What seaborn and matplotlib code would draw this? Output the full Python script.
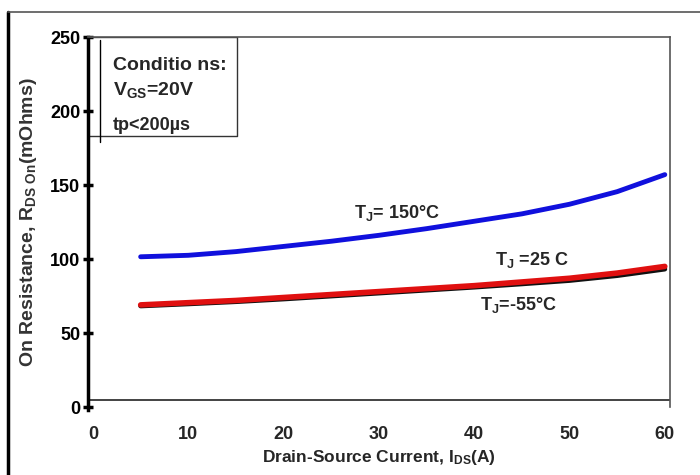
import matplotlib
matplotlib.use("Agg")
import matplotlib.pyplot as plt
import seaborn as sns
import pandas as pd

sns.set_theme(style="white")
plt.rcParams['font.family'] = ['Liberation Sans', 'DejaVu Sans']
plt.rcParams['mathtext.fontset'] = 'custom'
plt.rcParams['mathtext.rm'] = 'Liberation Sans:bold'
plt.rcParams['mathtext.it'] = 'Liberation Sans:bold'
plt.rcParams['mathtext.bf'] = 'Liberation Sans:bold'

# Data
ids = [5, 10, 15, 20, 25, 30, 35, 40, 45, 50, 55, 60]
r_150 = [101.5, 102.5, 105, 108.5, 112, 116, 120.5, 125.5, 130.5, 137, 145.5, 157]
r_25 = [69, 70.5, 72, 74, 76, 78, 80, 82, 84.5, 87, 90.5, 95]
r_m55 = [68.3, 69.7, 71.2, 73, 75, 77, 79, 81, 83.2, 85.5, 88.8, 93.2]

xticks = [0, 10, 20, 30, 40, 50, 60]
yticks = [0, 50, 100, 150, 200, 250]

df = pd.DataFrame({
    "I": ids * 3,
    "R": r_m55 + r_25 + r_150,
    "T": ["-55"] * len(ids) + ["25"] * len(ids) + ["150"] * len(ids),
})

fig = plt.figure(figsize=(7, 4.75), dpi=100)
ax = fig.add_axes([88 / 700, 1 - 407 / 475, (670 - 88) / 700, (407 - 37) / 475])

palette = {"-55": "#111111", "25": "#e01010", "150": "#1010dd"}
widths = {"-55": 3.5, "25": 4.0, "150": 3.5}
for t in ["-55", "25", "150"]:
    sub = df[df["T"] == t]
    sns.lineplot(data=sub, x="I", y="R", ax=ax, color=palette[t],
                 linewidth=widths[t], legend=False)

x0 = 0 - 5 / 9.53
ax.set_xlim(x0, x0 + 582 / 9.53)
ax.set_ylim(0, 250)

for s in ["top", "right"]:
    ax.spines[s].set_color("#555555")
    ax.spines[s].set_linewidth(1.2)
ax.spines["bottom"].set_visible(False)
ax.axhline(4.7, color="#222222", linewidth=1.2)
ax.spines["left"].set_color("black")
ax.spines["left"].set_linewidth(2.5)
ax.spines["left"].set_bounds(-2, 250)

ax.set_yticks(yticks)
ax.set_yticklabels([str(v) for v in yticks], fontsize=13, fontweight="bold")
ax.tick_params(axis="y", left=True, direction="inout", length=7, width=2.5,
               pad=2, colors="black")
ax.set_xticks(xticks)
ax.set_xticklabels([str(v) for v in xticks], fontsize=13, fontweight="bold")
ax.tick_params(axis="x", which="major", bottom=True, length=0, pad=14)
ax.set_xticks([0, 50], minor=True)
ax.tick_params(axis="x", which="minor", bottom=True, direction="out", length=6,
               width=2.5, colors="black", pad=14)
ax.set_xlabel("Drain-Source Current, I$_{\\mathrm{DS}}$(A)", fontsize=12.5,
              fontweight="bold", labelpad=3)
ax.set_ylabel("On Resistance, R$_{\\mathrm{DS\\ On}}$(mOhms)", fontsize=14,
              fontweight="bold", color="#333333", labelpad=8)
ax.grid(False)

# Conditions box
ax.plot([x0, x0 + 149 / 9.53, x0 + 149 / 9.53, x0], [250, 250, 183, 183],
        color="#333333", linewidth=1.0)
ax.plot([x0 + 12 / 9.53] * 2, [248, 179], color="black", linewidth=1.0, clip_on=False)
ax.text(2.1, 230.5, "Conditio ns:", fontsize=14, fontweight="bold", va="center")
ax.text(2.1, 214, "V$_{\\mathrm{GS}}$=20V", fontsize=14, fontweight="bold", va="center")
ax.text(2.1, 190, "tp<200µs", fontsize=13, fontweight="bold", va="center")

# curve labels
ax.text(27.4, 131, "T$_{\\mathrm{J}}$= 150°C", fontsize=13, fontweight="bold", va="center")
ax.text(42.2, 99, "T$_{\\mathrm{J}}$ =25 C", fontsize=13, fontweight="bold", va="center")
ax.text(40.6, 69, "T$_{\\mathrm{J}}$=-55°C", fontsize=13, fontweight="bold", va="center")

# outer frame lines
fig.add_artist(plt.Line2D([7.5 / 700, 7.5 / 700], [0, 1 - 12 / 475], color="black", linewidth=2.5))
fig.add_artist(plt.Line2D([7.5 / 700, 1], [1 - 12 / 475, 1 - 12 / 475], color="#555555", linewidth=1.2))

fig.savefig("out.png", dpi=100)
